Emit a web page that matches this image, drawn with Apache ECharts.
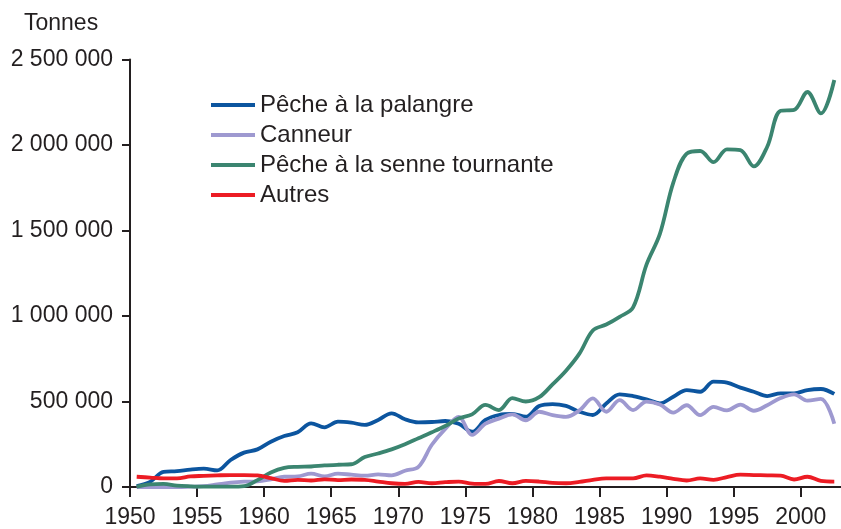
<!DOCTYPE html>
<html>
<head>
<meta charset="utf-8">
<script src="https://cdn.jsdelivr.net/npm/echarts@6/dist/echarts.min.js"></script>
<style>
html,body{margin:0;padding:0;background:#fff;}
#chart{width:841px;height:529px;}
</style>
</head>
<body>
<div id="chart"></div>
<script>
const years = [1950,1951,1952,1953,1954,1955,1956,1957,1958,1959,
  1960,1961,1962,1963,1964,1965,1966,1967,1968,1969,
  1970,1971,1972,1973,1974,1975,1976,1977,1978,1979,
  1980,1981,1982,1983,1984,1985,1986,1987,1988,1989,
  1990,1991,1992,1993,1994,1995,1996,1997,1998,1999,
  2000,2001,2002];

const seriesNames = ['Pêche à la palangre','Canneur','Pêche à la senne tournante','Autres'];

const palangre = [5000,30000,89000,93000,102000,107000,97000,158000,201000,220000,
  265000,298000,320000,372000,349000,382000,376000,363000,392000,431000,
  396000,378000,380000,386000,370000,323000,392000,421000,427000,411000,
  474000,485000,474000,440000,421000,489000,542000,532000,513000,489000,
  528000,567000,557000,616000,610000,581000,557000,532000,548000,548000,
  567000,573000,544000];

const canneur = [0,0,0,0,2000,5000,15000,25000,31000,33000,
  45000,60000,62000,78000,62000,78000,72000,66000,74000,68000,
  95000,118000,247000,340000,410000,305000,370000,400000,425000,390000,
  440000,420000,410000,448000,518000,440000,508000,450000,499000,482000,
  435000,478000,420000,468000,448000,482000,446000,478000,520000,542000,
  505000,515000,370000];

const senne = [2000,15000,18000,8000,4000,2000,2000,2000,5000,40000,
  85000,112000,118000,120000,126000,130000,133000,175000,196000,220000,
  250000,285000,320000,357000,400000,425000,480000,450000,520000,500000,
  525000,600000,680000,780000,915000,950000,995000,1050000,1300000,1480000,
  1780000,1950000,1965000,1900000,1975000,1970000,1875000,1990000,2200000,2205000,
  2310000,2185000,2380000];

const autres = [60000,55000,50000,50000,62000,65000,68000,70000,70000,68000,
  52000,36000,42000,38000,45000,40000,44000,42000,32000,22000,
  18000,30000,22000,28000,32000,20000,18000,35000,22000,36000,
  32000,24000,22000,30000,42000,50000,50000,50000,68000,60000,
  48000,38000,50000,42000,58000,72000,70000,68000,66000,44000,
  60000,36000,32000];

const yTicks = [0, 500000, 1000000, 1500000, 2000000, 2500000];
const colors = ['#0c559f','#9e99d0','#3b8570','#ec1c24'];

const FONT = '"Liberation Sans", Arial, Helvetica, sans-serif';
const TXT = '#231f20';

function fmt(v){ return String(v).replace(/\B(?=(\d{3})+(?!\d))/g, ' '); }
// values are annual totals plotted at mid-year
function pts(arr){ return years.map((y,i)=>[y+0.5, arr[i]]); }

const chart = echarts.init(document.getElementById('chart'), null, {renderer:'canvas'});
const valuesList = [palangre, canneur, senne, autres];

chart.setOption({
  animation:false,
  backgroundColor:'#fff',
  textStyle:{fontFamily:FONT, color:TXT},
  title:{text:'Tonnes', left:19, top:7,
    textStyle:{fontFamily:FONT, fontSize:23, fontWeight:'normal', color:TXT}},
  grid:{left:130, right:-2, top:59.5, bottom:42, containLabel:false},
  legend:{
    orient:'vertical', left:206, top:88,
    icon:'rect', itemWidth:44, itemHeight:4, itemGap:6,
    data:seriesNames,
    textStyle:{fontFamily:FONT, fontSize:24, color:TXT, lineHeight:24}
  },
  xAxis:{
    type:'value', min:1950, max:2003, interval:5,
    axisLine:{show:true, lineStyle:{color:TXT, width:2}},
    axisTick:{show:true, length:10, lineStyle:{color:TXT, width:2}},
    axisLabel:{fontFamily:FONT, fontSize:23, color:TXT, margin:19, showMaxLabel:false,
      formatter:(v)=>String(v)},
    splitLine:{show:false}
  },
  yAxis:{
    type:'value', min:yTicks[0], max:yTicks[yTicks.length-1], interval:yTicks[1]-yTicks[0],
    axisLine:{show:true, lineStyle:{color:TXT, width:2}},
    axisTick:{show:true, length:8, lineStyle:{color:TXT, width:2}},
    axisLabel:{fontFamily:FONT, fontSize:23, color:TXT, margin:17, formatter:fmt},
    splitLine:{show:false}
  },
  series: seriesNames.map((n,i)=>({
    name:n, type:'line', data:pts(valuesList[i]),
    symbol:'none', smooth:0.35,
    lineStyle:{color:colors[i], width:3.8},
    itemStyle:{color:colors[i]},
    z: 2+i
  }))
});
</script>
</body>
</html>
